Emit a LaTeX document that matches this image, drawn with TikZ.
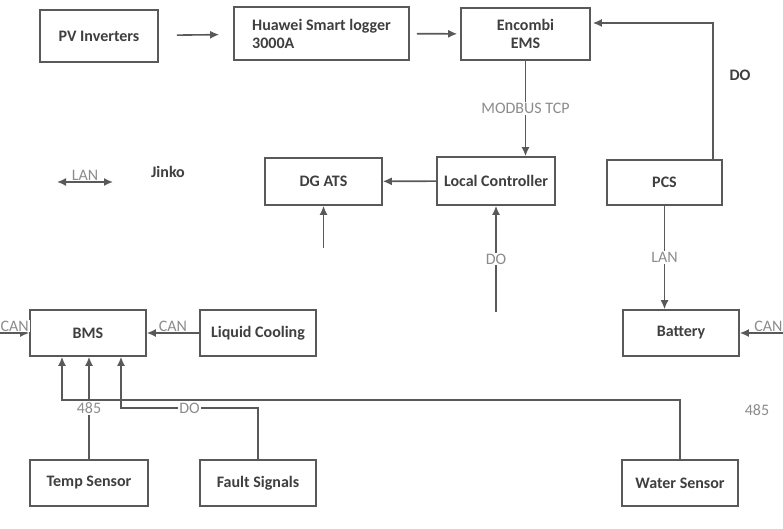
\documentclass[tikz,border=0pt]{standalone}
\usepackage{fontspec}
\setmainfont{Carlito}
\usetikzlibrary{arrows.meta}
\definecolor{linegray}{HTML}{595959}
\definecolor{textgray}{HTML}{3F3F3F}
\definecolor{lblgray}{HTML}{8C8C8C}
\begin{document}
\begin{tikzpicture}[x=1pt,y=-1pt,
            box/.style={rectangle,draw=linegray,line width=1.6pt,fill=white,text=textgray,
              font=\bfseries\fontsize{16}{18}\selectfont,inner sep=0pt},
            lbl/.style={fill=white,text=lblgray,font=\fontsize{16}{18}\selectfont,inner sep=1pt},
            tag/.style={text=textgray,font=\bfseries\fontsize{16}{18}\selectfont,inner sep=1pt},
            every path/.style={->,>={Latex[length=9pt,width=8pt]},draw=linegray,line width=1.6pt}]
            \path[-,use as bounding box,fill=white,draw=none] (0,0) rectangle (783,529);
            % top row
            \node[box,minimum width=118pt,minimum height=52pt] (PV) at (99,36) {PV Inverters};
            \node[box,minimum width=175pt,minimum height=53pt,align=left] (Logger) at (321.5,33.5) {Huawei Smart logger\\3000A};
            \node[box,minimum width=129pt,minimum height=52pt,align=center] (EMS) at (525.5,34) {Encombi\\EMS};
            % middle row
            \node[box,minimum width=117pt,minimum height=47pt] (ATS) at (323.5,181.5) {DG ATS};
            \node[box,minimum width=118pt,minimum height=48pt] (Ctrl) at (496,181) {Local Controller};
            \node[box,minimum width=115pt,minimum height=45pt] (PCS) at (664.5,182.5) {PCS};
            \node[tag] (Jinko) at (168,172) {Jinko};
            \node[tag] (DOtop) at (740,75) {DO};
            % lower row
            \node[box,minimum width=116pt,minimum height=46pt] (BMS) at (88,333) {BMS};
            \node[box,minimum width=116pt,minimum height=46pt] (Cool) at (258,333) {Liquid Cooling};
            \node[box,minimum width=116pt,minimum height=46pt] (Batt) at (681,333) {Battery};
            % sensors
            \node[box,minimum width=118pt,minimum height=46pt] (Temp) at (89,483) {Temp Sensor};
            \node[box,minimum width=116pt,minimum height=46pt] (Fault) at (258,483) {Fault Signals};
            \node[box,minimum width=116pt,minimum height=46pt] (Water) at (680,483) {Water Sensor};
            \node[lbl] (W485) at (757,410) {485};
            % free ends and bends
            \coordinate (LanL) at (57,182);
            \coordinate (LanR) at (113,182);
            \coordinate (AtsIn) at (323.5,248);
            \coordinate (DoIn) at (496,312);
            \coordinate (CanL) at (0,333);
            \coordinate (CanR) at (797,333);
            \coordinate (FTurn) at (258,408);
            \coordinate (WTurn) at (680,400);
            % connectors
            \path[shorten <=18pt,shorten >=14pt] (PV) -- (Logger);
            \path[shorten <=7pt,shorten >=3pt] (Logger) -- (EMS);
            \path ([xshift=48.5pt]PCS.north) |- ([yshift=11pt,xshift=2pt]EMS.east);
            \path (EMS.south) -- node[lbl]{MODBUS TCP} (EMS.south |- Ctrl.north);
            \path (Ctrl) -- (ATS);
            \path (AtsIn) -- (ATS);
            \path (DoIn) -- node[lbl]{DO} (Ctrl);
            \path (PCS.south) -- node[lbl]{LAN} (PCS.south |- Batt.north);
            \path[<->] (LanL) -- node[lbl,above]{LAN} (LanR);
            \path (Cool) -- node[lbl,above]{CAN} (BMS);
            \path (CanL) -- node[lbl,above]{CAN} (BMS);
            \path (CanR) -- node[lbl,above]{CAN} (Batt);
            \path (Temp.north) -- node[lbl]{485} (Temp.north |- BMS.south);
            \path (Fault.north) -- (FTurn) -| node[lbl,pos=0.25]{DO} ([xshift=33pt]BMS.south);
            \path (Water.north) -- (WTurn) -| ([xshift=-26pt]BMS.south);
          \end{tikzpicture}
\end{document}
